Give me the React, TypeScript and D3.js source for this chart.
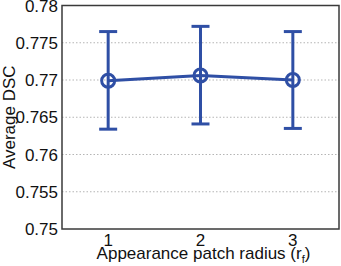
import React, { useEffect, useRef } from 'react';
import * as d3 from 'd3';

const radius = [1, 2, 3];
const meanDsc = [0.7699, 0.7706, 0.77];
const upperDsc = [0.7765, 0.7772, 0.7765];
const lowerDsc = [0.7634, 0.7641, 0.7635];
const yTicks = [0.75, 0.755, 0.76, 0.765, 0.77, 0.775, 0.78];

const W = 341;
const H = 266;
const margin = { left: 62, right: 2, top: 5.5, bottom: 37 };
const blue = '#2f4fa5';
const font = 'Liberation Sans, Arial, sans-serif';

function Chart() {
  const ref = useRef<SVGSVGElement>(null);

  useEffect(() => {
    const svg = d3.select(ref.current);
    svg.selectAll('*').remove();

    const x = d3.scaleLinear().domain([0.5, 3.5]).range([margin.left, W - margin.right]);
    const y = d3.scaleLinear().domain([0.75, 0.78]).range([H - margin.bottom, margin.top]);

    // grid
    svg.append('g')
      .selectAll('line')
      .data(yTicks.slice(1, -1))
      .enter()
      .append('line')
      .attr('x1', x(0.5))
      .attr('x2', x(3.5))
      .attr('y1', d => y(d))
      .attr('y2', d => y(d))
      .attr('stroke', '#b5b5b5')
      .attr('stroke-width', 1)
      .attr('stroke-dasharray', '1.5,2');

    // frame
    svg.append('rect')
      .attr('x', x(0.5))
      .attr('y', y(0.78))
      .attr('width', x(3.5) - x(0.5))
      .attr('height', y(0.75) - y(0.78))
      .attr('fill', 'none')
      .attr('stroke', '#3a3a3a')
      .attr('stroke-width', 1.5);

    // y tick labels
    svg.append('g')
      .selectAll('text')
      .data(yTicks)
      .enter()
      .append('text')
      .attr('x', x(0.5) - 4)
      .attr('y', d => y(d) + 6)
      .attr('text-anchor', 'end')
      .attr('font-family', font)
      .attr('font-size', 17)
      .attr('fill', '#111')
      .text(d => d3.format('')(+d.toFixed(3)));

    // x tick labels
    svg.append('g')
      .selectAll('text')
      .data(radius)
      .enter()
      .append('text')
      .attr('x', d => x(d))
      .attr('y', y(0.75) + 17)
      .attr('text-anchor', 'middle')
      .attr('font-family', font)
      .attr('font-size', 17)
      .attr('fill', '#111')
      .text(d => d);

    // x label
    const xl = svg.append('text')
      .attr('x', x(2) + 3)
      .attr('y', H - 7)
      .attr('text-anchor', 'middle')
      .attr('font-family', font)
      .attr('font-size', 17)
      .attr('fill', '#111');
    xl.append('tspan').text('Appearance patch radius (r');
    xl.append('tspan').attr('font-size', 11).attr('dy', 4).text('f');
    xl.append('tspan').attr('dy', -4).text(')');

    // y label
    svg.append('text')
      .attr('transform', `translate(15,${(y(0.75) + y(0.78)) / 2}) rotate(-90)`)
      .attr('text-anchor', 'middle')
      .attr('font-family', font)
      .attr('font-size', 17)
      .attr('fill', '#111')
      .text('Average DSC');

    const pts = radius.map((r, i) => ({ r, m: meanDsc[i], hi: upperDsc[i], lo: lowerDsc[i] }));

    // error bars
    const eb = svg.append('g').attr('stroke', blue).attr('stroke-width', 3).attr('fill', 'none');
    pts.forEach(p => {
      eb.append('line').attr('x1', x(p.r)).attr('x2', x(p.r)).attr('y1', y(p.hi)).attr('y2', y(p.lo));
      eb.append('line').attr('x1', x(p.r) - 9).attr('x2', x(p.r) + 9).attr('y1', y(p.hi)).attr('y2', y(p.hi));
      eb.append('line').attr('x1', x(p.r) - 9).attr('x2', x(p.r) + 9).attr('y1', y(p.lo)).attr('y2', y(p.lo));
    });

    // mean line
    const line = d3.line<typeof pts[0]>().x(d => x(d.r)).y(d => y(d.m));
    svg.append('path')
      .datum(pts)
      .attr('d', line)
      .attr('fill', 'none')
      .attr('stroke', blue)
      .attr('stroke-width', 3);

    // markers
    svg.append('g')
      .selectAll('circle')
      .data(pts)
      .enter()
      .append('circle')
      .attr('cx', d => x(d.r))
      .attr('cy', d => y(d.m))
      .attr('r', 6.5)
      .attr('fill', 'none')
      .attr('stroke', blue)
      .attr('stroke-width', 3);
  }, []);

  return <svg ref={ref} width={W} height={H} style={{ display: 'block' }} />;
}

export default function App() {
  return (
    <div style={{ position: 'absolute', left: 0, top: 0, background: '#fff' }}>
      <Chart />
    </div>
  );
}
